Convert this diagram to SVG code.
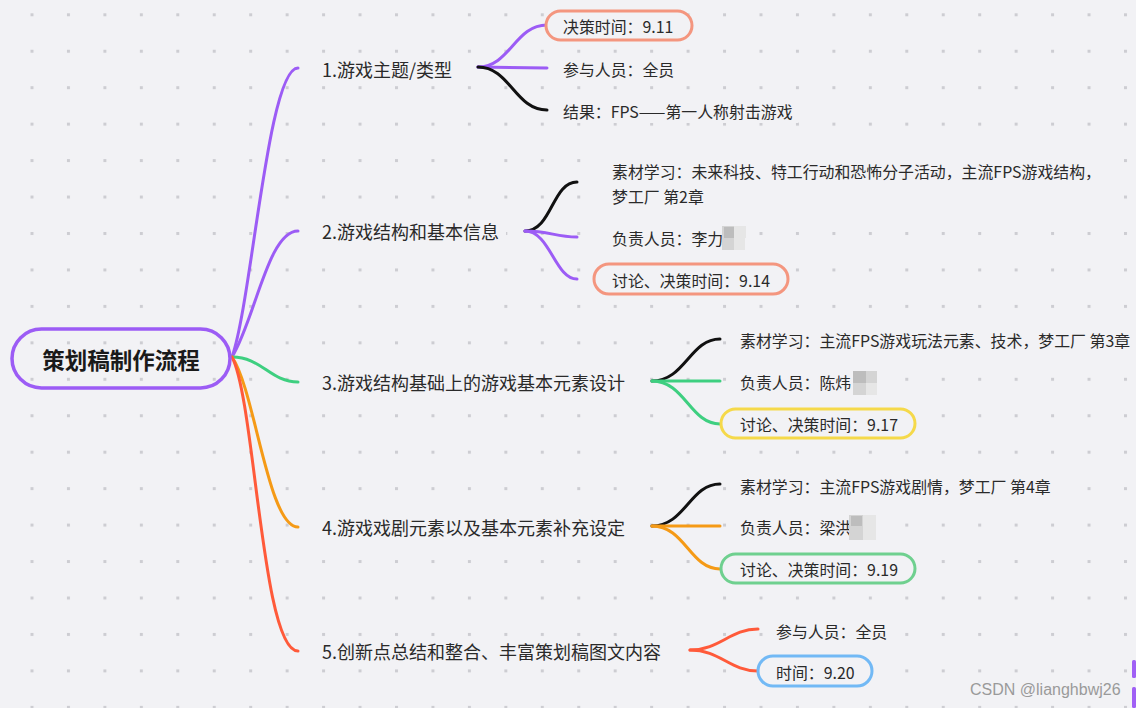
<svg xmlns="http://www.w3.org/2000/svg" width="1136" height="708" viewBox="0 0 1136 708">
<defs>
<pattern id="grid" x="30.5" y="13.3" width="36.45" height="36.45" patternUnits="userSpaceOnUse">
<rect x="0" y="0" width="3" height="3" fill="#cdcdd2"/>
</pattern>
<style>
.t1{font-family:"Noto Sans CJK SC","Noto Sans",sans-serif;font-size:18px;fill:#2a2a2a;dominant-baseline:central}
.t2{font-family:"Noto Sans CJK SC","Noto Sans",sans-serif;font-size:15.9px;fill:#2a2a2a;dominant-baseline:central}
.root{font-family:"Noto Sans CJK SC","Noto Sans",sans-serif;font-size:22.5px;font-weight:bold;fill:#1a1a1a;dominant-baseline:central}
.bg{fill:#f2f2f5}
.c{fill:none;stroke-width:3;stroke-linecap:round}
.p{stroke:#9c5cf5}.g{stroke:#3ecf80}.o{stroke:#f59a16}.r{stroke:#ff5a3a}.k{stroke:#111}
.box{fill:#f2f2f5;stroke-width:3}
.mz1{fill:#bdbdbd}.mz2{fill:#d4d4d4}.mz3{fill:#e6e6e6}
.wm{font-family:"Liberation Sans",Arial,sans-serif;font-size:16px;fill:#9a9a9a;dominant-baseline:central}
</style>
</defs>
<rect width="1136" height="708" fill="#f2f2f5"/>
<rect width="1136" height="708" fill="url(#grid)"/>

<g id="connectors">
<path class="c p" d="M232,357 C252,300 268,68 298,68"/>
<path class="c p" d="M232,357 C255,320 268,231 298,231"/>
<path class="c g" d="M232,357 C262,357 270,382 298,382"/>
<path class="c o" d="M232,357 C255,390 268,527 298,527"/>
<path class="c r" d="M232,357 C255,400 262,651 298,651"/>

<path class="c p" d="M478,67 C510,67 515,25 547,25"/>
<path class="c p" d="M478,67 L547,68"/>
<path class="c k" d="M478,67 C510,67 515,110 547,110"/>

<path class="c k" d="M525,231 C552,231 552,182 577,182"/>
<path class="c p" d="M525,231 C550,231 555,237 577,237"/>
<path class="c p" d="M525,231 C550,231 555,279 577,279"/>

<path class="c k" d="M652,381 C685,381 690,339 720,339"/>
<path class="c g" d="M652,381 L720,381"/>
<path class="c g" d="M652,381 C685,381 690,424 720,424"/>

<path class="c k" d="M652,526 C685,526 690,484 720,484"/>
<path class="c o" d="M652,526 L720,526"/>
<path class="c o" d="M652,526 C685,526 690,569 720,569"/>

<path class="c r" d="M690,650 C720,650 730,629 758,629"/>
<path class="c r" d="M690,650 C720,650 730,671 758,671"/>
</g>

<g id="root">
<rect x="12" y="329" width="218" height="59" rx="29.5" fill="none" stroke="#9c5cf5" stroke-width="3.5"/>
<text class="root" x="121" y="359" text-anchor="middle">策划稿制作流程</text>
</g>

<g id="n1">
<rect class="bg" x="316" y="55" width="142" height="28"/>
<text class="t1" x="322" y="69">1.游戏主题/类型</text>
</g>
<g id="n1a">
<rect class="box" x="546" y="11" width="146" height="29" rx="14.5" stroke="#f4967f"/>
<text class="t2" x="563" y="26">决策时间：9.11</text>
</g>
<g id="n1b">
<rect class="bg" x="558" y="57" width="124" height="24"/>
<text class="t2" x="563" y="69">参与人员：全员</text>
</g>
<g id="n1c">
<rect class="bg" x="558" y="99" width="240" height="24"/>
<text class="t2" x="563" y="111">结果：FPS——第一人称射击游戏</text>
</g>

<g id="n2">
<rect class="bg" x="316" y="217" width="190" height="28"/>
<text class="t1" x="322" y="231">2.游戏结构和基本信息</text>
</g>
<g id="n2a">
<rect class="bg" x="606" y="158" width="496" height="50"/>
<text class="t2" x="612" y="171">素材学习：未来科技、特工行动和恐怖分子活动，主流FPS游戏结构，</text>
<text class="t2" x="612" y="196">梦工厂 第2章</text>
</g>
<g id="n2b">
<rect class="bg" x="606" y="225" width="142" height="26"/>
<text class="t2" x="612" y="238">负责人员：李力</text>
<rect class="mz2" x="722" y="226" width="12" height="12"/>
<rect class="mz1" x="724" y="227" width="10" height="11"/>
<rect class="mz3" x="734" y="226" width="12" height="12"/>
<rect class="mz2" x="722" y="238" width="12" height="12"/>
<rect class="mz3" x="734" y="238" width="11" height="12"/>
</g>
<g id="n2c">
<rect class="box" x="594" y="264" width="194" height="30" rx="15" stroke="#f4967f"/>
<text class="t2" x="612" y="280">讨论、决策时间：9.14</text>
</g>

<g id="n3">
<rect class="bg" x="316" y="368" width="318" height="28"/>
<text class="t1" x="322" y="382">3.游戏结构基础上的游戏基本元素设计</text>
</g>
<g id="n3a">
<rect class="bg" x="734" y="327" width="402" height="26"/>
<text class="t2" x="740" y="340">素材学习：主流FPS游戏玩法元素、技术，梦工厂 第3章</text>
</g>
<g id="n3b">
<rect class="bg" x="734" y="369" width="146" height="26"/>
<text class="t2" x="740" y="382">负责人员：陈炜</text>
<rect class="mz1" x="853" y="371" width="13" height="12"/>
<rect class="mz2" x="866" y="371" width="11" height="12"/>
<rect class="mz2" x="853" y="383" width="13" height="12"/>
<rect class="mz3" x="866" y="383" width="11" height="12"/>
</g>
<g id="n3c">
<rect class="box" x="721" y="409" width="194" height="29" rx="14.5" stroke="#f5d94a"/>
<text class="t2" x="740" y="424">讨论、决策时间：9.17</text>
</g>

<g id="n4">
<rect class="bg" x="316" y="513" width="318" height="28"/>
<text class="t1" x="322" y="527">4.游戏戏剧元素以及基本元素补充设定</text>
</g>
<g id="n4a">
<rect class="bg" x="734" y="473" width="326" height="26"/>
<text class="t2" x="740" y="486">素材学习：主流FPS游戏剧情，梦工厂 第4章</text>
</g>
<g id="n4b">
<rect class="bg" x="734" y="514" width="146" height="26"/>
<text class="t2" x="740" y="527">负责人员：梁洪</text>
<rect class="mz2" x="849" y="515" width="14" height="12"/>
<rect class="mz1" x="851" y="516" width="11" height="10"/>
<rect class="mz3" x="863" y="515" width="13" height="12"/>
<rect class="mz2" x="849" y="527" width="14" height="13"/>
<rect class="mz3" x="863" y="527" width="13" height="13"/>
</g>
<g id="n4c">
<rect class="box" x="721" y="554" width="194" height="29" rx="14.5" stroke="#6fd08f"/>
<text class="t2" x="740" y="569">讨论、决策时间：9.19</text>
</g>

<g id="n5">
<rect class="bg" x="316" y="637" width="356" height="28"/>
<text class="t1" x="322" y="651">5.创新点总结和整合、丰富策划稿图文内容</text>
</g>
<g id="n5a">
<rect class="bg" x="770" y="618" width="124" height="26"/>
<text class="t2" x="776" y="631">参与人员：全员</text>
</g>
<g id="n5b">
<rect class="box" x="758" y="656" width="114" height="30" rx="15" stroke="#72b9f5"/>
<text class="t2" x="776" y="672">时间：9.20</text>
</g>

<text class="wm" x="970" y="689">CSDN @lianghbwj26</text>
<rect x="1132" y="660" width="4" height="18" rx="1.5" fill="#a060f5"/>
<rect x="1132" y="687" width="4" height="21" rx="1.5" fill="#a060f5"/>
</svg>
